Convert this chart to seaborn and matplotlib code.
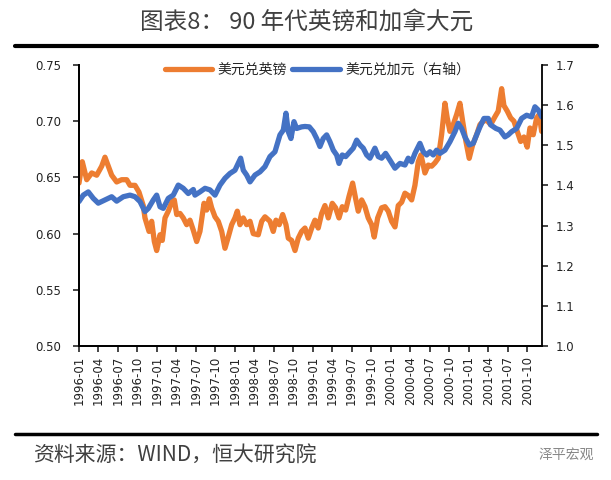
import numpy as np
import pandas as pd
import matplotlib
matplotlib.use("Agg")
import matplotlib.pyplot as plt
import matplotlib.dates as mdates
from matplotlib.lines import Line2D
import seaborn as sns

# 美元兑英镑 (左轴)，时间用小数年份表示
gbp_t = [1996.000, 1996.042, 1996.099, 1996.163, 1996.227, 1996.291, 1996.333, 1996.376,
         1996.419, 1996.483, 1996.547, 1996.612, 1996.654, 1996.718, 1996.769, 1996.824,
         1996.846, 1996.898, 1996.932, 1996.966, 1996.996, 1997.039, 1997.068, 1997.103,
         1997.145, 1997.189, 1997.222, 1997.253, 1997.295, 1997.337, 1997.381, 1997.423,
         1997.466, 1997.509, 1997.551, 1997.603, 1997.637, 1997.671, 1997.701, 1997.744,
         1997.786, 1997.830, 1997.872, 1997.914, 1997.958, 1998.000, 1998.030, 1998.064,
         1998.107, 1998.150, 1998.193, 1998.235, 1998.299, 1998.343, 1998.385, 1998.449,
         1998.491, 1998.526, 1998.568, 1998.612, 1998.654, 1998.684, 1998.727, 1998.770,
         1998.812, 1998.855, 1998.898, 1998.940, 1998.984, 1999.026, 1999.068, 1999.112,
         1999.154, 1999.197, 1999.248, 1999.291, 1999.334, 1999.376, 1999.420, 1999.462,
         1999.509, 1999.548, 1999.581, 1999.625, 1999.667, 1999.709, 1999.753, 1999.786,
         1999.830, 1999.881, 1999.924, 1999.966, 2000.009, 2000.052, 2000.094, 2000.138,
         2000.180, 2000.222, 2000.266, 2000.308, 2000.351, 2000.385, 2000.415, 2000.436,
         2000.479, 2000.522, 2000.565, 2000.607, 2000.650, 2000.693, 2000.722, 2000.757,
         2000.799, 2000.843, 2000.885, 2000.920, 2000.962, 2001.004, 2001.048, 2001.099,
         2001.142, 2001.184, 2001.228, 2001.279, 2001.334, 2001.376, 2001.420, 2001.449,
         2001.492, 2001.535, 2001.578, 2001.620, 2001.664, 2001.706, 2001.748, 2001.783,
         2001.825, 2001.869, 2001.902, 2001.933]
gbp_val = [0.645, 0.664, 0.648, 0.654, 0.652, 0.660, 0.668, 0.660,
           0.652, 0.646, 0.648, 0.648, 0.643, 0.643, 0.637, 0.625,
           0.614, 0.602, 0.611, 0.593, 0.585, 0.599, 0.594, 0.614,
           0.620, 0.628, 0.630, 0.617, 0.618, 0.614, 0.608, 0.612,
           0.603, 0.593, 0.602, 0.627, 0.621, 0.631, 0.623, 0.615,
           0.611, 0.602, 0.587, 0.597, 0.608, 0.614, 0.620, 0.608,
           0.614, 0.608, 0.611, 0.600, 0.599, 0.611, 0.615, 0.611,
           0.602, 0.612, 0.608, 0.617, 0.608, 0.596, 0.594, 0.585,
           0.596, 0.602, 0.605, 0.596, 0.605, 0.612, 0.605, 0.618,
           0.625, 0.614, 0.627, 0.623, 0.614, 0.624, 0.621, 0.633,
           0.645, 0.631, 0.620, 0.630, 0.624, 0.614, 0.608, 0.597,
           0.614, 0.623, 0.624, 0.620, 0.611, 0.606, 0.625, 0.628,
           0.636, 0.634, 0.630, 0.643, 0.664, 0.670, 0.661, 0.654,
           0.661, 0.660, 0.663, 0.667, 0.688, 0.716, 0.703, 0.691,
           0.697, 0.706, 0.716, 0.700, 0.682, 0.667, 0.679, 0.688,
           0.697, 0.700, 0.701, 0.697, 0.704, 0.709, 0.729, 0.714,
           0.709, 0.703, 0.700, 0.691, 0.682, 0.686, 0.677, 0.694,
           0.688, 0.703, 0.706, 0.691]

# 美元兑加元 (右轴)
cad_t = [1996.000, 1996.055, 1996.119, 1996.183, 1996.247, 1996.333, 1996.419, 1996.483,
         1996.568, 1996.654, 1996.718, 1996.782, 1996.846, 1996.889, 1996.953, 1996.996,
         1997.039, 1997.081, 1997.145, 1997.209, 1997.273, 1997.337, 1997.401, 1997.466,
         1997.487, 1997.551, 1997.616, 1997.680, 1997.744, 1997.808, 1997.872, 1997.936,
         1998.000, 1998.073, 1998.107, 1998.150, 1998.193, 1998.257, 1998.321, 1998.385,
         1998.449, 1998.513, 1998.577, 1998.620, 1998.654, 1998.684, 1998.718, 1998.757,
         1998.791, 1998.855, 1998.898, 1998.953, 1999.004, 1999.048, 1999.090, 1999.132,
         1999.176, 1999.218, 1999.261, 1999.304, 1999.334, 1999.376, 1999.420, 1999.475,
         1999.517, 1999.561, 1999.603, 1999.645, 1999.689, 1999.731, 1999.795, 1999.838,
         1999.881, 1999.932, 1999.988, 2000.052, 2000.116, 2000.180, 2000.222, 2000.266,
         2000.308, 2000.372, 2000.415, 2000.458, 2000.500, 2000.543, 2000.586, 2000.629,
         2000.693, 2000.757, 2000.821, 2000.863, 2000.907, 2000.949, 2001.004, 2001.056,
         2001.099, 2001.142, 2001.193, 2001.248, 2001.279, 2001.347, 2001.398, 2001.462,
         2001.504, 2001.548, 2001.612, 2001.676, 2001.740, 2001.804, 2001.847, 2001.889,
         2001.933]
cad_val = [1.360, 1.376, 1.384, 1.368, 1.356, 1.364, 1.372, 1.361,
           1.372, 1.376, 1.372, 1.360, 1.335, 1.343, 1.364, 1.376,
           1.347, 1.343, 1.368, 1.376, 1.401, 1.393, 1.380, 1.390,
           1.376, 1.384, 1.393, 1.389, 1.376, 1.401, 1.418, 1.430,
           1.438, 1.468, 1.438, 1.426, 1.409, 1.426, 1.434, 1.447,
           1.472, 1.484, 1.526, 1.538, 1.580, 1.534, 1.517, 1.559,
           1.542, 1.546, 1.547, 1.546, 1.534, 1.517, 1.497, 1.517,
           1.526, 1.509, 1.488, 1.476, 1.455, 1.476, 1.472, 1.484,
           1.493, 1.513, 1.501, 1.493, 1.476, 1.468, 1.493, 1.472,
           1.468, 1.480, 1.463, 1.443, 1.455, 1.451, 1.468, 1.459,
           1.480, 1.505, 1.484, 1.476, 1.484, 1.476, 1.488, 1.480,
           1.488, 1.509, 1.534, 1.555, 1.542, 1.521, 1.501, 1.505,
           1.526, 1.546, 1.567, 1.567, 1.551, 1.542, 1.538, 1.521,
           1.526, 1.534, 1.542, 1.567, 1.575, 1.571, 1.596, 1.588,
           1.571]

x_end = 2001.937
tick_months = pd.date_range("1996-01-01", "2001-10-01", freq="3MS")
left_ticks = [0.50, 0.55, 0.60, 0.65, 0.70, 0.75]
right_ticks = [1.0, 1.1, 1.2, 1.3, 1.4, 1.5, 1.6, 1.7]


def to_date(t):
    t = np.asarray(t, dtype=float)
    return pd.Timestamp("1996-01-01") + pd.to_timedelta((t - 1996) * 365.25, unit="D")


gbp = pd.DataFrame({"date": to_date(gbp_t), "rate": gbp_val})
cad = pd.DataFrame({"date": to_date(cad_t), "rate": cad_val})

sns.set_style("ticks")
plt.rcParams["font.family"] = ["Noto Sans CJK SC", "DejaVu Sans"]

fig = plt.figure(figsize=(6.11, 4.8), dpi=100)
ax = fig.add_axes([0.1293, 0.279, 0.7577, 0.5855])
ax2 = ax.twinx()

sns.lineplot(data=gbp, x="date", y="rate", ax=ax, color="#ED7D31", linewidth=3.8,
             label="美元兑英镑", legend=False)
sns.lineplot(data=cad, x="date", y="rate", ax=ax2, color="#4472C4", linewidth=3.8,
             label="美元兑加元（右轴）", legend=False)

ax.set_xlim(pd.Timestamp("1996-01-01"), to_date([x_end])[0])
ax.set_ylim(0.50, 0.75)
ax2.set_ylim(1.0, 1.7)
ax.set_yticks(left_ticks)
ax2.set_yticks(right_ticks)
ax.yaxis.set_major_formatter(plt.FormatStrFormatter("%.2f"))
ax2.yaxis.set_major_formatter(plt.FormatStrFormatter("%.1f"))
ax.set_xticks(tick_months)
ax.xaxis.set_major_formatter(mdates.DateFormatter("%Y-%m"))
for lbl in ax.get_xticklabels():
    lbl.set_rotation(90)

for a in (ax, ax2):
    a.set_xlabel("")
    a.set_ylabel("")
    a.spines["top"].set_visible(False)
    for s in ("left", "right", "bottom"):
        a.spines[s].set_linewidth(1.3)
        a.spines[s].set_color("black")
ax.spines["right"].set_visible(False)
ax.tick_params(axis="y", direction="out", length=4, width=1.2, labelsize=8.5, pad=9,
               labelfontfamily="DejaVu Sans", labelcolor="#222222")
ax.tick_params(axis="x", direction="out", length=4, width=1.2, labelsize=8.5, pad=3,
               labelfontfamily="DejaVu Sans", labelcolor="#222222")
ax2.tick_params(axis="y", direction="out", length=4, width=1.2, labelsize=8.5, pad=6,
                labelfontfamily="DejaVu Sans", labelcolor="#222222")

h1, l1 = ax.get_legend_handles_labels()
h2, l2 = ax2.get_legend_handles_labels()
ax2.legend(h1 + h2, l1 + l2, loc="center", bbox_to_anchor=(0.515, 0.982), ncol=2,
           frameon=False, fontsize=10, handlelength=3.4, columnspacing=0.4,
           handletextpad=0.4)

fig.text(0.5016, 1 - 22 / 480, "图表8： 90 年代英镑和加拿大元", ha="center", va="center",
         fontsize=17, fontweight="light", color="#404040")
fig.add_artist(Line2D([15 / 611, 597 / 611], [1 - 46 / 480] * 2, color="black", lw=3))
fig.add_artist(Line2D([15 / 611, 597 / 611], [1 - 434 / 480] * 2, color="black", lw=2.5))
fig.text(33 / 611, 1 - 456 / 480, "资料来源：WIND，恒大研究院", ha="left", va="center",
         fontsize=15, fontweight="light", style="italic", color="#404040")
fig.text(594 / 611, 1 - 455 / 480, "泽平宏观", ha="right", va="center",
         fontsize=10, color="#888888")

fig.savefig("out.png", dpi=100)
